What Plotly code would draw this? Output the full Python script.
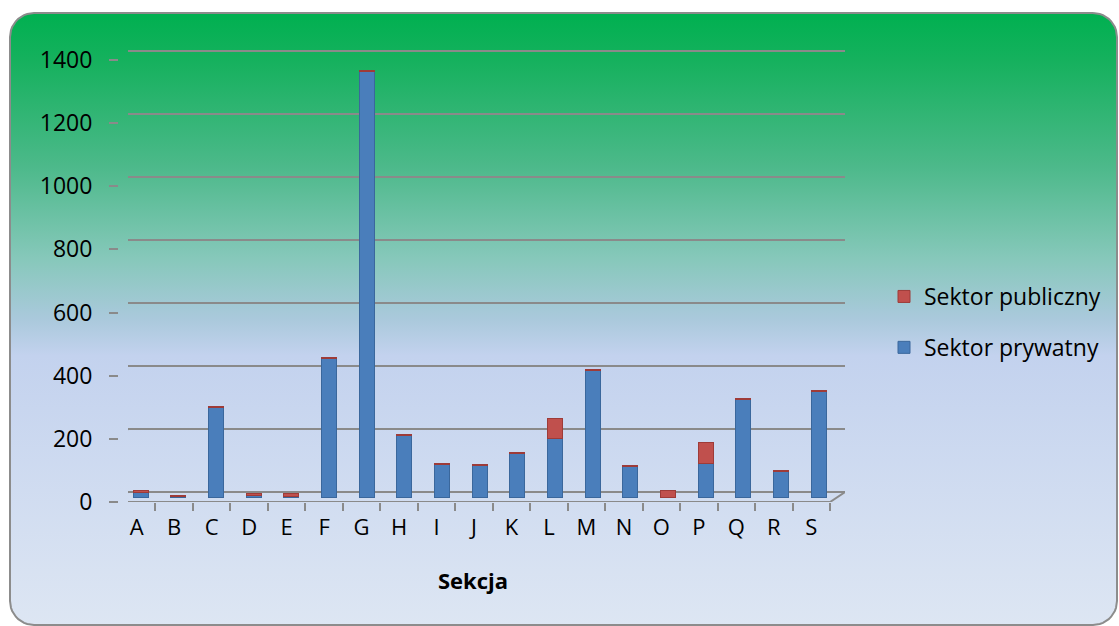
import numpy as np
import plotly.graph_objects as go

# Sections and employment by sector
sekcje = ["A", "B", "C", "D", "E", "F", "G", "H", "I", "J",
          "K", "L", "M", "N", "O", "P", "Q", "R", "S"]
sektor_prywatny = [15, 2, 285, 6, 3, 438, 1347, 196, 104, 101,
                   138, 186, 400, 96, 0, 106, 308, 80, 335]
sektor_publiczny = [6, 3, 3, 4, 7, 3, 3, 3, 3, 3,
                    3, 64, 3, 3, 20, 66, 5, 4, 3]
y_ticks = [0, 200, 400, 600, 800, 1000, 1200, 1400]

W, H = 1119, 626
FONT = "Open Sans"
GRID = "#8a8a8a"


def px_x(p):
    return p / W


def px_y(p):
    return 1 - p / H


# Rounded frame drawn as a filled path with a vertical gradient
def rounded_rect(x0, y0, x1, y1, r, n=12):
    xs, ys = [], []
    corners = [(x1 - r, y0 + r, -90, 0), (x1 - r, y1 - r, 0, 90),
               (x0 + r, y1 - r, 90, 180), (x0 + r, y0 + r, 180, 270)]
    for cx, cy, a0, a1 in corners:
        for a in np.linspace(np.radians(a0), np.radians(a1), n):
            xs.append(cx + r * np.cos(a))
            ys.append(cy + r * np.sin(a))
    xs.append(xs[0])
    ys.append(ys[0])
    return xs, ys


fx, fy = rounded_rect(10, 13, 1117, 625, 24)

fig = go.Figure()
fig.add_trace(go.Scatter(
    x=fx, y=fy, mode="lines", fill="toself",
    line=dict(color="#8c8c8c", width=2),
    fillgradient=dict(
        type="vertical", start=13, stop=625,
        colorscale=[[0.0, "#00B050"], [0.08, "#16b15e"], [0.25, "#4cb98a"],
                    [0.40, "#86c8ba"], [0.50, "#aac9dc"], [0.56, "#c3d2ee"],
                    [1.0, "#dde6f3"]]),
    hoverinfo="skip", showlegend=False, xaxis="x", yaxis="y"))

# Stacked bars
fig.add_trace(go.Bar(
    x=sekcje, y=sektor_prywatny, name="Sektor prywatny",
    marker=dict(color="#4A7EBB", line=dict(color="#3A679C", width=1)),
    width=0.4, xaxis="x2", yaxis="y2", legendgroup="b", legendrank=2))
fig.add_trace(go.Bar(
    x=sekcje, y=sektor_publiczny, name="Sektor publiczny",
    marker=dict(color="#C0504D", line=dict(color="#9E3B38", width=1)),
    width=0.4, xaxis="x2", yaxis="y2", legendgroup="a", legendrank=1))

# Placeholders so the overlay axes get drawn
fig.add_trace(go.Scatter(x=[None], y=[None], xaxis="x3", yaxis="y4",
                         showlegend=False, hoverinfo="skip"))
fig.add_trace(go.Scatter(x=[None], y=[None], xaxis="x2", yaxis="y3",
                         showlegend=False, hoverinfo="skip"))

# Plot region (pixels)
XL, XR = 128, 845
YT, YB = 40, 502
dom_x = [px_x(XL), px_x(XR)]
dom_y = [px_y(YB), px_y(YT)]
span = YB - YT

k_bar = 442 / 1400
k_grid = 441 / 1400
k_lab = 442 / 1400
bar_r0 = -(YB - 497) / k_bar
grid_r0 = -(YB - 492) / k_grid

fig.update_layout(
    width=W, height=H, autosize=False,
    margin=dict(l=0, r=0, t=0, b=0, pad=0, autoexpand=False),
    paper_bgcolor="white",
    plot_bgcolor="rgba(0,0,0,0)",
    barmode="stack",
    bargap=0.6,
    font=dict(family=FONT, size=23, color="black"),
    xaxis=dict(domain=[0, 1], range=[0, W], visible=False, fixedrange=True,
               automargin=False),
    yaxis=dict(domain=[0, 1], range=[H, 0], visible=False, fixedrange=True,
               automargin=False),
    xaxis2=dict(domain=dom_x, anchor="y2", range=[-0.34, 18.70],
                showticklabels=False, showgrid=False, zeroline=False,
                showline=False, ticks="", automargin=False),
    yaxis2=dict(domain=dom_y, anchor="x2", range=[bar_r0, bar_r0 + span / k_bar],
                showticklabels=False, showgrid=False, zeroline=False,
                showline=False, ticks="", automargin=False),
    yaxis3=dict(overlaying="y2", anchor="x2",
                range=[grid_r0, grid_r0 + span / k_grid],
                tickvals=y_ticks, showticklabels=False, ticks="",
                showgrid=True, gridcolor=GRID, gridwidth=2,
                zeroline=False, showline=False, automargin=False),
    yaxis4=dict(overlaying="y2", anchor="free", position=px_x(118),
                range=[0, span / k_lab], tickvals=y_ticks,
                ticks="outside", ticklen=9, tickwidth=2, tickcolor=GRID,
                ticklabelstandoff=12, automargin=False,
                showgrid=False, zeroline=False, showline=False,
                tickfont=dict(family=FONT, size=23, color="black")),
    xaxis3=dict(overlaying="x2", anchor="y2", range=[-0.232, 18.898],
                tickvals=list(range(len(sekcje))), ticktext=sekcje,
                ticks="", showgrid=False, zeroline=False, showline=False,
                ticklabelstandoff=10, automargin=False,
                tickfont=dict(family=FONT, size=22, color="black"),
                minor=dict(tickvals=[i - 0.5 for i in range(len(sekcje) + 1)],
                           ticks="outside", ticklen=8, tickwidth=2,
                           tickcolor=GRID, showgrid=False)),
    legend=dict(x=px_x(884), y=px_y(322), xanchor="left", yanchor="middle",
                bgcolor="rgba(0,0,0,0)", traceorder="grouped",
                tracegroupgap=18, font=dict(family=FONT, size=23, color="black")),
    showlegend=True,
)

# Front wall, floor edge and depth connectors
shapes = [
    dict(type="line", xref="x3", yref="y4", x0=-0.5, x1=-0.5, y0=0, y1=1400,
         line=dict(color=GRID, width=2)),
    dict(type="line", xref="x3", yref="y4", x0=-0.5, x1=18.5, y0=0, y1=0,
         line=dict(color=GRID, width=2)),
    dict(type="line", xref="x3", yref="y4", xsizemode="pixel", ysizemode="pixel",
         xanchor=18.5, yanchor=0, x0=0, x1=15, y0=0, y1=10,
         line=dict(color=GRID, width=2)),
]
for v in y_ticks:
    shapes.append(dict(type="line", xref="x3", yref="y4",
                       xsizemode="pixel", ysizemode="pixel",
                       xanchor=-0.5, yanchor=v, x0=0, x1=10, y0=0, y1=10,
                       line=dict(color=GRID, width=2)))
fig.update_layout(shapes=shapes)

fig.add_annotation(text="<b>Sekcja</b>", xref="paper", yref="paper",
                   x=px_x(473), y=px_y(580), yanchor="middle", showarrow=False,
                   font=dict(family=FONT, size=22, color="black"))

fig.write_html("out.html")
